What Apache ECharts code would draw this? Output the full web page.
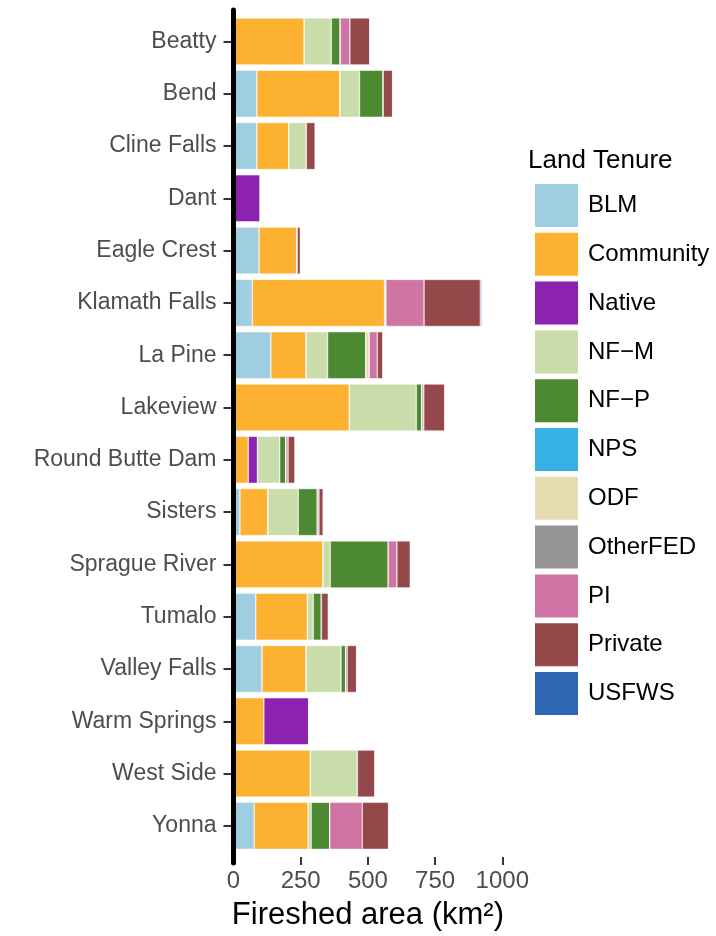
<!DOCTYPE html>
<html>
<head>
<meta charset="utf-8">
<script src="https://cdn.jsdelivr.net/npm/echarts@6/dist/echarts.min.js"></script>
<style>
  html, body { margin: 0; padding: 0; background: #fff; }
  #chart { width: 716px; height: 936px; }
</style>
</head>
<body>
<div id="chart"></div>
<script>
// firesheds, top to bottom
var sites = ['Beatty', 'Bend', 'Cline Falls', 'Dant', 'Eagle Crest', 'Klamath Falls', 'La Pine', 'Lakeview',
  'Round Butte Dam', 'Sisters', 'Sprague River', 'Tumalo', 'Valley Falls', 'Warm Springs', 'West Side', 'Yonna'];

// area per land tenure (km2), same order as sites
var blm       = [0, 87, 87, 0, 95, 70, 139, 0, 0, 24, 0, 83, 106, 0, 0, 77];
var community = [263, 309, 118, 2, 142, 492, 131, 431, 55, 104, 333, 192, 164, 113, 286, 201];
var native    = [0, 0, 0, 98, 0, 0, 0, 0, 34, 0, 0, 0, 0, 168, 0, 0];
var nfM       = [101, 73, 66, 0, 0, 0, 80, 249, 83, 113, 27, 22, 130, 0, 175, 11];
var nfP       = [33, 88, 0, 0, 0, 5, 142, 21, 23, 71, 216, 30, 17, 0, 0, 69];
var nps       = [0, 0, 0, 0, 0, 0, 0, 0, 0, 0, 0, 0, 0, 0, 0, 0];
var odf       = [0, 0, 0, 0, 0, 0, 13, 0, 0, 0, 0, 0, 0, 0, 0, 0];
var otherFed  = [0, 0, 0, 0, 0, 0, 0, 0, 0, 0, 0, 0, 0, 0, 0, 0];
var pi        = [36, 0, 0, 0, 0, 142, 30, 7, 8, 6, 32, 0, 6, 0, 0, 121];
var priv      = [74, 35, 33, 0, 12, 209, 21, 78, 26, 16, 50, 26, 35, 0, 65, 98];
var usfws     = [0, 0, 0, 0, 0, 5, 0, 0, 0, 0, 0, 0, 0, 0, 0, 0];

var xTicks = [0, 250, 500, 750, 1000];

var tenures = [
  { name: 'BLM', data: blm, color: '#9ecee0' },
  { name: 'Community', data: community, color: '#fcb131' },
  { name: 'Native', data: native, color: '#8c22b0' },
  { name: 'NF\u2212M', data: nfM, color: '#c9ddab' },
  { name: 'NF\u2212P', data: nfP, color: '#4c8930' },
  { name: 'NPS', data: nps, color: '#36b1e5' },
  { name: 'ODF', data: odf, color: '#e7dcb1' },
  { name: 'OtherFED', data: otherFed, color: '#969696' },
  { name: 'PI', data: pi, color: '#cf74a3' },
  { name: 'Private', data: priv, color: '#954849' },
  { name: 'USFWS', data: usfws, color: '#2f66b4' }
];

var font = 'Liberation Sans, Arial, sans-serif';
var myChart = echarts.init(document.getElementById('chart'));

var series = tenures.map(function (t) {
  return {
    name: t.name,
    type: 'bar',
    stack: 'area',
    data: t.data,
    barWidth: 47,
    itemStyle: { color: t.color, borderColor: '#ffffff', borderWidth: 0.5 },
    xAxisIndex: 0,
    yAxisIndex: 0
  };
});

var option = {
  animation: false,
  backgroundColor: '#ffffff',
  textStyle: { fontFamily: font },
  title: {
    text: 'Land Tenure',
    left: 528,
    top: 148,
    padding: 0,
    textStyle: { fontFamily: font, fontSize: 26, fontWeight: 'normal', color: '#000' }
  },
  legend: {
    orient: 'vertical',
    left: 533,
    top: 182,
    padding: 0,
    itemWidth: 45,
    itemHeight: 45,
    itemGap: 1.8,
    icon: 'rect',
    selectedMode: false,
    data: tenures.map(function (t) { return t.name; }),
    textStyle: { fontFamily: font, fontSize: 24, color: '#000', padding: [0, 0, 0, 4] }
  },
  grid: [
    { left: 233.5, right: 213.7, top: 15.3, bottom: 78.3 },
    // only carries the long vertical axis line (ggplot expands past the outer bars)
    { left: 233.5, right: 716 - 234.5, top: 10, bottom: 73 }
  ],
  xAxis: [{
    type: 'value',
    gridIndex: 0,
    min: 0,
    max: 1000,
    interval: 250,
    offset: 5,
    splitLine: { show: false },
    axisLine: { show: false },
    axisTick: { show: true, length: 8, lineStyle: { color: '#333', width: 2 } },
    axisLabel: {
      margin: 12,
      fontSize: 24,
      color: '#4d4d4d',
      fontFamily: font,
      formatter: function (v) { return xTicks.indexOf(v) >= 0 ? String(v) : ''; }
    },
    name: 'Fireshed area (km\u00b2)',
    nameLocation: 'middle',
    nameGap: 43,
    nameTextStyle: { fontSize: 31, color: '#000', fontFamily: font }
  }, {
    type: 'value',
    gridIndex: 1,
    show: false,
    min: 0,
    max: 1
  }],
  yAxis: [{
    type: 'category',
    gridIndex: 0,
    data: sites,
    inverse: true,
    axisLine: { show: false },
    axisTick: { show: true, alignWithLabel: true, length: 10, lineStyle: { color: '#333', width: 2 } },
    axisLabel: { margin: 17, fontSize: 23, color: '#4d4d4d', fontFamily: font },
    splitLine: { show: false }
  }, {
    type: 'value',
    gridIndex: 1,
    min: 0,
    max: 1,
    z: 10,
    axisLine: { show: true, lineStyle: { color: '#000', width: 5 } },
    axisTick: { show: false },
    axisLabel: { show: false },
    splitLine: { show: false }
  }],
  series: series
};

myChart.setOption(option);
window.addEventListener('resize', function () { myChart.resize(); });
</script>
</body>
</html>
